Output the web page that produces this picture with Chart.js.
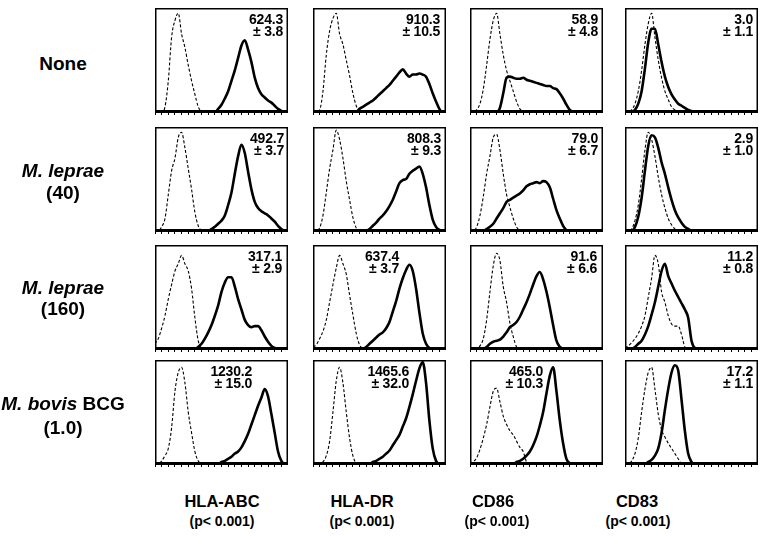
<!DOCTYPE html>
<html><head><meta charset="utf-8">
<script src="https://cdn.jsdelivr.net/npm/chart.js@4/dist/chart.umd.min.js"></script>
<style>
html,body{margin:0;padding:0;background:#fff;}
#fig{position:relative;width:768px;height:536px;overflow:hidden;font-family:"Liberation Sans",Arial,Helvetica,sans-serif;font-weight:bold;color:#000;}
.panel{position:absolute;}
.lbl{position:absolute;transform:translate(-50%,-50%);white-space:nowrap;line-height:1;text-align:center;}
.stat{position:absolute;text-align:right;font-size:14px;line-height:12px;white-space:nowrap;letter-spacing:-0.2px;}
</style></head><body><div id="fig"></div>
<script>
// ---------- data ----------
const channels = [0,1,2,3,4,5,6,7,8,9,10,11,12,13,14,15,16,17,18,19,20,21,22,23,24,25,26,27,28,29,30,31,32,33,34,35,36,37,38,39,40];
const markers = ['HLA-ABC','HLA-DR','CD86','CD83'];
const pValues = ['(p< 0.001)','(p< 0.001)','(p< 0.001)','(p< 0.001)'];
const treatmentItalic = ['', 'M. leprae', 'M. leprae', 'M. bovis'];
const treatmentPlain = ['None', '', '', ' BCG'];
const doses = ['', '(40)', '(160)', '(1.0)'];
const meanValues = [
  ['624.3','910.3','58.9','3.0'],
  ['492.7','808.3','79.0','2.9'],
  ['317.1','637.4','91.6','11.2'],
  ['1230.2','1465.6','465.0','17.2']
];
const sdValues = [
  ['3.8','10.5','4.8','1.1'],
  ['3.7','9.3','6.7','1.0'],
  ['2.9','3.7','6.6','0.8'],
  ['15.0','32.0','10.3','1.1']
];

// Row 1: None
const abcNoneIso   = [0,0,0,0.05,0.3,0.72,0.88,0.95,0.75,0.62, 0.45,0.3,0.17,0.05,0];
const abcNoneStain = [0,0,0,0,0,0,0,0,0,0, 0,0,0,0,0,0,0,0,0,0.03, 0.07,0.13,0.2,0.3,0.4,0.52,0.64,0.69,0.6,0.48, 0.33,0.23,0.17,0.14,0.11,0.09,0.06,0.03,0.01,0, 0];
const drNoneIso    = [0,0,0.02,0.2,0.55,0.78,0.9,0.95,0.75,0.65, 0.5,0.35,0.18,0.06,0];
const drNoneStain  = [0,0,0,0,0,0,0,0,0,0, 0,0,0,0,0.03,0.05,0.07,0.09,0.11,0.14, 0.17,0.2,0.23,0.26,0.3,0.34,0.38,0.41,0.37,0.34, 0.36,0.36,0.37,0.36,0.34,0.27,0.18,0.1,0.03,0, 0];
const cd86NoneIso  = [0,0,0.02,0.08,0.22,0.45,0.7,0.88,0.95,0.75, 0.55,0.4,0.3,0.2,0.1,0.03,0];
const cd86NoneStain= [0,0,0,0,0,0,0,0,0,0.04, 0.18,0.33,0.34,0.33,0.32,0.32,0.33,0.31,0.3,0.29, 0.28,0.27,0.26,0.25,0.25,0.23,0.22,0.18,0.13,0.07, 0.02,0];
const cd83NoneIso  = [0,0,0.02,0.08,0.2,0.4,0.65,0.85,0.95,0.72, 0.5,0.33,0.2,0.12,0.05,0.02,0];
const cd83NoneStain= [0,0,0,0.02,0.08,0.2,0.42,0.67,0.8,0.8, 0.65,0.48,0.34,0.24,0.17,0.12,0.08,0.06,0.04,0.02, 0.01,0];

// Row 2: M. leprae (40)
const abcMl40Iso   = [0,0,0.04,0.12,0.35,0.58,0.7,0.9,0.95,0.8, 0.6,0.4,0.18,0.05,0];
const abcMl40Stain = [0,0,0,0,0,0,0,0,0,0, 0,0,0,0,0,0,0,0.02,0.04,0.07, 0.1,0.15,0.25,0.37,0.55,0.72,0.83,0.75,0.57,0.4, 0.28,0.22,0.19,0.17,0.15,0.12,0.09,0.05,0.02,0, 0];
const drMl40Iso    = [0,0,0.03,0.15,0.37,0.6,0.78,0.97,0.88,0.7, 0.48,0.3,0.13,0.03,0];
const drMl40Stain  = [0,0,0,0,0,0,0,0,0,0, 0,0,0,0,0,0,0,0.02,0.05,0.08, 0.12,0.15,0.19,0.24,0.3,0.38,0.46,0.49,0.5,0.55, 0.58,0.6,0.62,0.55,0.42,0.25,0.11,0.04,0.01,0, 0];
const cd86Ml40Iso  = [0,0,0.04,0.15,0.33,0.55,0.72,0.9,0.93,0.78, 0.55,0.35,0.23,0.12,0.04,0];
const cd86Ml40Stain= [0,0,0,0,0,0.02,0.04,0.07,0.12,0.17, 0.22,0.28,0.3,0.32,0.34,0.36,0.39,0.43,0.45,0.46, 0.47,0.46,0.48,0.47,0.42,0.31,0.2,0.12,0.05,0.01, 0];
const cd83Ml40Iso  = [0,0,0.02,0.1,0.25,0.5,0.78,0.95,0.88,0.72, 0.52,0.35,0.22,0.12,0.06,0.02,0];
const cd83Ml40Stain= [0,0,0,0.04,0.14,0.32,0.58,0.82,0.92,0.9, 0.8,0.66,0.55,0.42,0.3,0.2,0.13,0.08,0.04,0.02, 0];

// Row 3: M. leprae (160)
const abcMl160Iso   = [0.05,0.1,0.2,0.32,0.48,0.62,0.75,0.82,0.9,0.82, 0.75,0.58,0.3,0.08,0.01,0];
const abcMl160Stain = [0,0,0,0,0,0,0,0,0,0, 0,0,0,0.02,0.05,0.1,0.16,0.23,0.32,0.42, 0.55,0.64,0.69,0.69,0.6,0.48,0.38,0.28,0.23,0.21, 0.22,0.22,0.18,0.12,0.07,0.03,0.01,0];
const drMl160Iso    = [0.02,0.04,0.1,0.17,0.28,0.45,0.62,0.78,0.9,0.82, 0.72,0.52,0.33,0.15,0.04,0];
const drMl160Stain  = [0,0,0,0,0,0,0,0,0,0, 0,0,0,0,0,0,0.02,0.05,0.08,0.11, 0.14,0.16,0.2,0.26,0.36,0.46,0.58,0.68,0.76,0.81, 0.75,0.58,0.35,0.15,0.05,0.01,0];
const cd86Ml160Iso  = [0,0,0,0.03,0.1,0.28,0.55,0.8,0.92,0.85, 0.6,0.45,0.25,0.12,0.02,0];
const cd86Ml160Stain= [0,0,0,0,0,0.02,0.05,0.07,0.08,0.09, 0.12,0.16,0.21,0.23,0.26,0.31,0.38,0.45,0.53,0.62, 0.7,0.74,0.67,0.55,0.4,0.23,0.08,0.02,0];
const cd83Ml160Iso  = [0.01,0.03,0.06,0.1,0.15,0.22,0.32,0.5,0.68,0.9, 0.82,0.55,0.45,0.32,0.24,0.22,0.22,0.14,0.02,0];
const cd83Ml160Stain= [0,0,0,0.02,0.05,0.08,0.14,0.22,0.33,0.45, 0.6,0.75,0.82,0.7,0.63,0.56,0.5,0.44,0.38,0.3, 0.08,0.01,0];

// Row 4: M. bovis BCG (1.0)
const abcBcgIso   = [0,0,0.03,0.08,0.15,0.35,0.7,0.88,0.93,0.78, 0.5,0.3,0.12,0.03,0];
const abcBcgStain = [0,0,0,0,0,0,0,0,0,0, 0,0,0,0,0,0,0,0,0,0, 0.02,0.03,0.05,0.07,0.1,0.12,0.16,0.22,0.29,0.38, 0.47,0.56,0.64,0.72,0.65,0.48,0.3,0.12,0.03,0, 0];
const drBcgIso    = [0,0,0,0.02,0.08,0.22,0.5,0.8,0.93,0.78, 0.5,0.25,0.08,0.01,0];
const drBcgStain  = [0,0,0,0,0,0,0,0,0,0, 0,0,0,0,0,0,0,0,0.02,0.03, 0.05,0.07,0.1,0.13,0.18,0.23,0.28,0.36,0.44,0.55, 0.67,0.8,0.92,0.98,0.78,0.42,0.15,0.03,0,0, 0];
const cd86BcgIso  = [0,0.02,0.06,0.14,0.25,0.38,0.55,0.7,0.73,0.6, 0.46,0.38,0.32,0.28,0.22,0.16,0.12,0.02,0];
const cd86BcgStain= [0,0,0,0,0,0,0,0,0,0, 0,0,0,0,0.02,0.03,0.05,0.08,0.12,0.18, 0.26,0.37,0.5,0.68,0.85,0.93,0.7,0.42,0.2,0.05, 0.01,0];
const cd83BcgIso  = [0,0,0.03,0.1,0.25,0.5,0.72,0.88,0.93,0.72, 0.48,0.33,0.26,0.2,0.15,0.1,0.05,0];
const cd83BcgStain= [0,0,0,0,0,0,0,0.02,0.04,0.08, 0.15,0.3,0.52,0.72,0.88,0.95,0.9,0.62,0.32,0.1, 0.02,0];

const panelSeries = [
  [[abcNoneIso,abcNoneStain],[drNoneIso,drNoneStain],[cd86NoneIso,cd86NoneStain],[cd83NoneIso,cd83NoneStain]],
  [[abcMl40Iso,abcMl40Stain],[drMl40Iso,drMl40Stain],[cd86Ml40Iso,cd86Ml40Stain],[cd83Ml40Iso,cd83Ml40Stain]],
  [[abcMl160Iso,abcMl160Stain],[drMl160Iso,drMl160Stain],[cd86Ml160Iso,cd86Ml160Stain],[cd83Ml160Iso,cd83Ml160Stain]],
  [[abcBcgIso,abcBcgStain],[drBcgIso,drBcgStain],[cd86BcgIso,cd86BcgStain],[cd83BcgIso,cd83BcgStain]]
];

// ---------- layout ----------
const panelLeft = [155, 313, 470, 625];
const panelTop = [8, 127, 245, 360];
const panelW = 133, panelH = 104, tickLen = 3;
const statRightInset = [[5,6,5,5],[4,5,5,5],[6,47,6,5],[36,37,60,5]];
const rowLabelX = 63;
const rowLabelY = [[63,63],[170,192],[287,308],[403,427]];
const colLabelX = [222, 362, 493, 637];
const colPX = [222, 362, 497, 638];
const colLabelY = 501, colPY = 521;

const fig = document.getElementById('fig');

const framePlugin = {
  id: 'frame',
  afterDatasetsDraw(chart) {
    const {ctx, chartArea: a} = chart;
    ctx.save();
    ctx.strokeStyle = '#000';
    ctx.lineWidth = 1.5;
    ctx.strokeRect(a.left + 0.75, a.top + 0.75, a.right - a.left - 1.5, a.bottom - a.top - 0.75);
    ctx.beginPath();
    ctx.lineWidth = 3;
    ctx.moveTo(a.left, a.bottom - 0.5);
    ctx.lineTo(a.right, a.bottom - 0.5);
    ctx.stroke();
    ctx.restore();
  }
};

for (let r = 0; r < 4; r++) {
  for (let c = 0; c < 4; c++) {
    const wrap = document.createElement('div');
    wrap.className = 'panel';
    wrap.style.left = panelLeft[c] + 'px';
    wrap.style.top = panelTop[r] + 'px';
    wrap.style.width = panelW + 'px';
    wrap.style.height = (panelH + tickLen) + 'px';
    const cv = document.createElement('canvas');
    cv.width = panelW; cv.height = panelH + tickLen;
    cv.style.width = panelW + 'px'; cv.style.height = (panelH + tickLen) + 'px';
    wrap.appendChild(cv);
    fig.appendChild(wrap);
    const [iso, stain] = panelSeries[r][c];
    new Chart(cv, {
      type: 'line',
      data: {
        labels: channels,
        datasets: [
          {data: iso, borderColor: '#000', borderWidth: 1.1, borderDash: [3, 2], pointRadius: 0, tension: 0.3, cubicInterpolationMode: 'monotone', fill: false},
          {data: stain, borderColor: '#000', borderWidth: 2.6, pointRadius: 0, tension: 0.3, cubicInterpolationMode: 'monotone', fill: false}
        ]
      },
      options: {
        responsive: false, animation: false, devicePixelRatio: 1,
        layout: {padding: 0},
        plugins: {legend: {display: false}, tooltip: {enabled: false}},
        scales: {
          x: {
            type: 'category', offset: false,
            grid: {display: true, drawOnChartArea: false, drawTicks: true, tickLength: tickLen,
                   color: (ctx) => (ctx.index % 2 === 0 ? '#000' : 'rgba(0,0,0,0)'), lineWidth: 1},
            border: {display: true, color: '#000', width: 2},
            ticks: {display: false, autoSkip: false}
          },
          y: {display: false, min: 0, max: 1}
        }
      },
      plugins: [framePlugin]
    });

    const st = document.createElement('div');
    st.className = 'stat';
    st.style.left = panelLeft[c] + 'px';
    st.style.top = (panelTop[r] + 5) + 'px';
    st.style.width = (panelW - statRightInset[r][c]) + 'px';
    st.innerHTML = meanValues[r][c] + '<br>\u00b1 ' + sdValues[r][c];
    fig.appendChild(st);
  }
}

function addLabel(html, x, y, size) {
  const d = document.createElement('div');
  d.className = 'lbl';
  d.style.left = x + 'px';
  d.style.top = y + 'px';
  d.style.fontSize = size + 'px';
  d.innerHTML = html;
  fig.appendChild(d);
}

for (let r = 0; r < 4; r++) {
  const first = (treatmentItalic[r] ? '<i>' + treatmentItalic[r] + '</i>' : '') + treatmentPlain[r];
  if (doses[r]) {
    addLabel(first, rowLabelX, rowLabelY[r][0], 19);
    addLabel(doses[r], rowLabelX, rowLabelY[r][1], 19);
  } else {
    addLabel(first, rowLabelX, rowLabelY[r][0], 19);
  }
}
for (let c = 0; c < 4; c++) {
  addLabel(markers[c], colLabelX[c], colLabelY, 16.5);
  addLabel(pValues[c], colPX[c], colPY, 14);
}
</script></body></html>
